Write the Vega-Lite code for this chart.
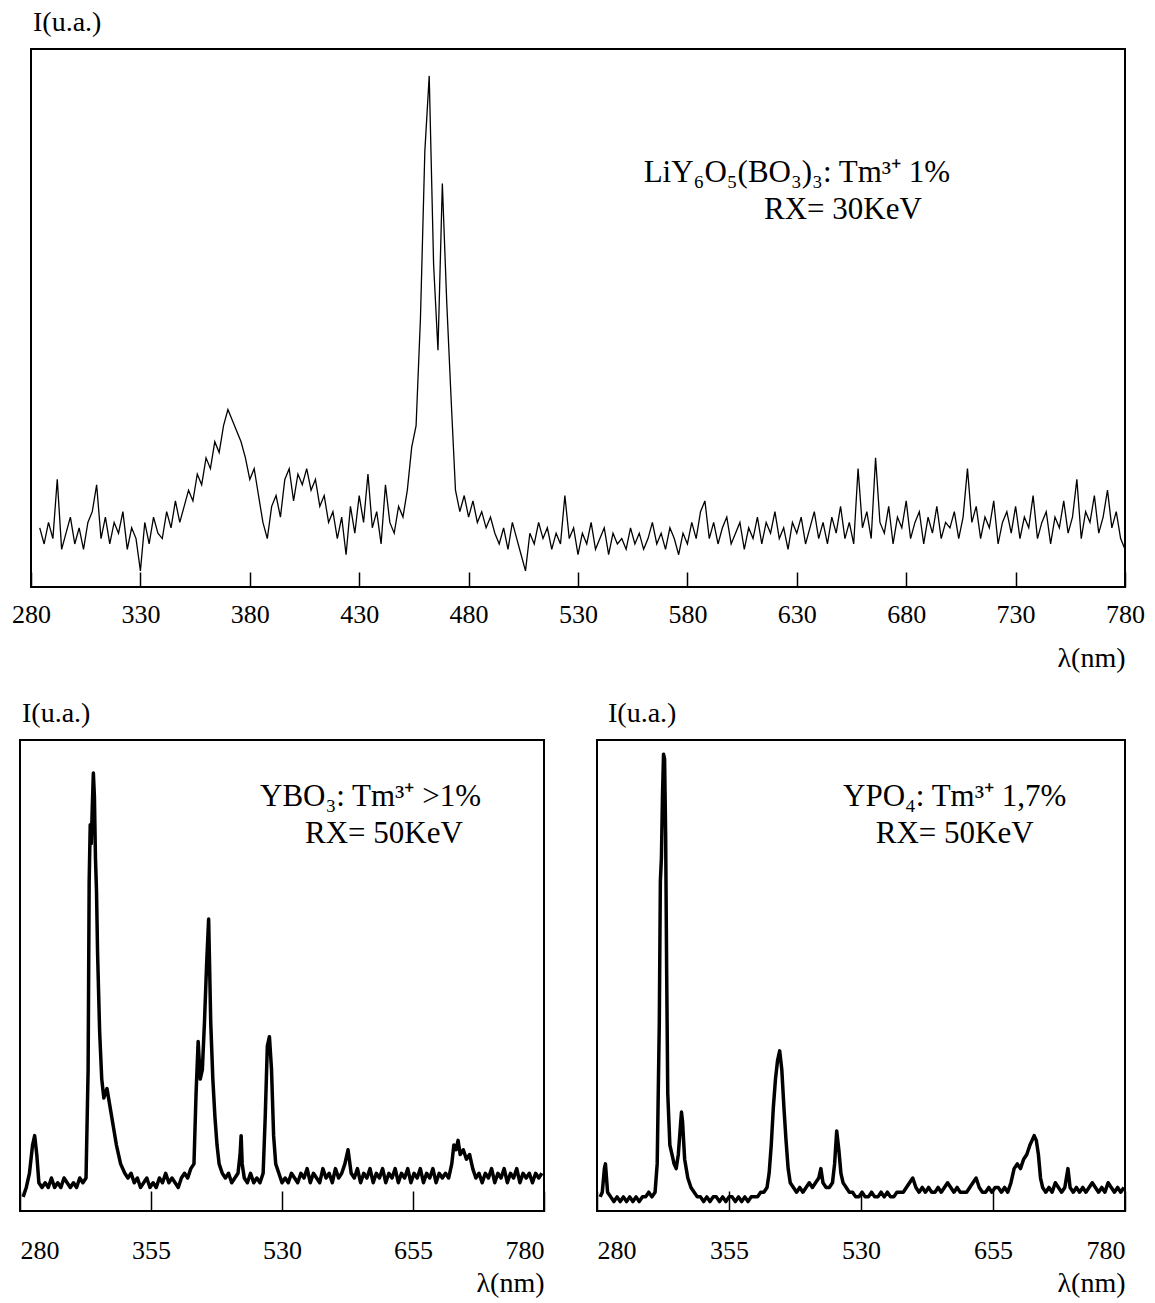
{
"$schema": "https://vega.github.io/schema/vega-lite/v6.json",
"padding": {"left": 10, "top": 8, "right": 0, "bottom": 0},
"background": "white",
"config": {
 "view": {"stroke": "black", "strokeWidth": 2},
 "font": "Liberation Serif",
 "title": {"font": "Liberation Serif", "fontSize": 28, "fontWeight": "normal", "color": "black", "anchor": "start", "frame": "group"},
 "axis": {"labelFont": "Liberation Serif", "labelFontSize": 26, "labelColor": "black", "titleFont": "Liberation Serif", "titleFontSize": 28, "titleFontWeight": "normal", "titleColor": "black", "grid": false, "domain": false, "tickColor": "black", "tickWidth": 1.5, "labelOverlap": false, "labelAngle": 0}
},
"datasets": {
 "lyb": [
{"wl":284,"i":11},{"wl":286,"i":8},{"wl":288,"i":12},{"wl":290,"i":9},{"wl":292,"i":20},{"wl":294,"i":7},{"wl":296,"i":10},{"wl":298,"i":13},{"wl":300,"i":8},{"wl":302,"i":11},{"wl":304,"i":7},{"wl":306,"i":12},{"wl":308,"i":14},{"wl":310,"i":19},{"wl":312,"i":9},{"wl":314,"i":13},{"wl":316,"i":8},{"wl":318,"i":12},{"wl":320,"i":10},{"wl":322,"i":14},{"wl":324,"i":7},{"wl":326,"i":11},{"wl":328,"i":9},{"wl":330,"i":3},{"wl":332,"i":12},{"wl":334,"i":8},{"wl":336,"i":13},{"wl":338,"i":10},{"wl":340,"i":9},{"wl":342,"i":14},{"wl":344,"i":11},{"wl":346,"i":16},{"wl":348,"i":12},{"wl":350,"i":15},{"wl":352,"i":18},{"wl":354,"i":16},{"wl":356,"i":21},{"wl":358,"i":19},{"wl":360,"i":24},{"wl":362,"i":22},{"wl":364,"i":27},{"wl":366,"i":25},{"wl":368,"i":30},{"wl":370,"i":33},{"wl":372,"i":31},{"wl":374,"i":29},{"wl":376,"i":27},{"wl":378,"i":24},{"wl":380,"i":20},{"wl":382,"i":22},{"wl":384,"i":17},{"wl":386,"i":12},{"wl":388,"i":9},{"wl":390,"i":15},{"wl":392,"i":17},{"wl":394,"i":13},{"wl":396,"i":20},{"wl":398,"i":22},{"wl":400,"i":16},{"wl":402,"i":21},{"wl":404,"i":19},{"wl":406,"i":22},{"wl":408,"i":18},{"wl":410,"i":20},{"wl":412,"i":15},{"wl":414,"i":17},{"wl":416,"i":12},{"wl":418,"i":14},{"wl":420,"i":9},{"wl":422,"i":13},{"wl":424,"i":6},{"wl":426,"i":15},{"wl":428,"i":10},{"wl":430,"i":17},{"wl":432,"i":12},{"wl":434,"i":21},{"wl":436,"i":11},{"wl":438,"i":14},{"wl":440,"i":8},{"wl":442,"i":19},{"wl":444,"i":12},{"wl":446,"i":10},{"wl":448,"i":15},{"wl":450,"i":13},{"wl":452,"i":18},{"wl":454,"i":26},{"wl":456,"i":30},{"wl":458,"i":50},{"wl":460,"i":81},{"wl":462,"i":95},{"wl":464,"i":60},{"wl":466,"i":44},{"wl":468,"i":75},{"wl":470,"i":53},{"wl":472,"i":35},{"wl":474,"i":18},{"wl":476,"i":14},{"wl":478,"i":17},{"wl":480,"i":13},{"wl":482,"i":16},{"wl":484,"i":12},{"wl":486,"i":14},{"wl":488,"i":11},{"wl":490,"i":13},{"wl":492,"i":10},{"wl":494,"i":8},{"wl":496,"i":11},{"wl":498,"i":7},{"wl":500,"i":12},{"wl":502,"i":9},{"wl":504,"i":6},{"wl":506,"i":3},{"wl":508,"i":10},{"wl":510,"i":8},{"wl":512,"i":12},{"wl":514,"i":9},{"wl":516,"i":11},{"wl":518,"i":7},{"wl":520,"i":10},{"wl":522,"i":8},{"wl":524,"i":17},{"wl":526,"i":9},{"wl":528,"i":11},{"wl":530,"i":6},{"wl":532,"i":10},{"wl":534,"i":8},{"wl":536,"i":12},{"wl":538,"i":7},{"wl":540,"i":9},{"wl":542,"i":11},{"wl":544,"i":6},{"wl":546,"i":10},{"wl":548,"i":8},{"wl":550,"i":9},{"wl":552,"i":7},{"wl":554,"i":11},{"wl":556,"i":8},{"wl":558,"i":10},{"wl":560,"i":7},{"wl":562,"i":9},{"wl":564,"i":12},{"wl":566,"i":8},{"wl":568,"i":10},{"wl":570,"i":7},{"wl":572,"i":11},{"wl":574,"i":9},{"wl":576,"i":6},{"wl":578,"i":10},{"wl":580,"i":8},{"wl":582,"i":12},{"wl":584,"i":9},{"wl":586,"i":14},{"wl":588,"i":16},{"wl":590,"i":9},{"wl":592,"i":12},{"wl":594,"i":8},{"wl":596,"i":11},{"wl":598,"i":13},{"wl":600,"i":8},{"wl":602,"i":10},{"wl":604,"i":12},{"wl":606,"i":7},{"wl":608,"i":11},{"wl":610,"i":9},{"wl":612,"i":13},{"wl":614,"i":8},{"wl":616,"i":12},{"wl":618,"i":10},{"wl":620,"i":14},{"wl":622,"i":9},{"wl":624,"i":11},{"wl":626,"i":7},{"wl":628,"i":12},{"wl":630,"i":10},{"wl":632,"i":13},{"wl":634,"i":8},{"wl":636,"i":11},{"wl":638,"i":14},{"wl":640,"i":9},{"wl":642,"i":12},{"wl":644,"i":8},{"wl":646,"i":13},{"wl":648,"i":10},{"wl":650,"i":15},{"wl":652,"i":9},{"wl":654,"i":12},{"wl":656,"i":8},{"wl":658,"i":22},{"wl":660,"i":11},{"wl":662,"i":14},{"wl":664,"i":9},{"wl":666,"i":24},{"wl":668,"i":12},{"wl":670,"i":10},{"wl":672,"i":15},{"wl":674,"i":8},{"wl":676,"i":13},{"wl":678,"i":11},{"wl":680,"i":16},{"wl":682,"i":9},{"wl":684,"i":12},{"wl":686,"i":14},{"wl":688,"i":8},{"wl":690,"i":13},{"wl":692,"i":10},{"wl":694,"i":15},{"wl":696,"i":9},{"wl":698,"i":12},{"wl":700,"i":11},{"wl":702,"i":14},{"wl":704,"i":9},{"wl":706,"i":13},{"wl":708,"i":22},{"wl":710,"i":12},{"wl":712,"i":15},{"wl":714,"i":9},{"wl":716,"i":13},{"wl":718,"i":11},{"wl":720,"i":16},{"wl":722,"i":8},{"wl":724,"i":12},{"wl":726,"i":14},{"wl":728,"i":10},{"wl":730,"i":15},{"wl":732,"i":9},{"wl":734,"i":13},{"wl":736,"i":11},{"wl":738,"i":17},{"wl":740,"i":9},{"wl":742,"i":12},{"wl":744,"i":14},{"wl":746,"i":8},{"wl":748,"i":13},{"wl":750,"i":11},{"wl":752,"i":16},{"wl":754,"i":10},{"wl":756,"i":13},{"wl":758,"i":20},{"wl":760,"i":9},{"wl":762,"i":14},{"wl":764,"i":12},{"wl":766,"i":17},{"wl":768,"i":10},{"wl":770,"i":13},{"wl":772,"i":18},{"wl":774,"i":11},{"wl":776,"i":14},{"wl":778,"i":9},{"wl":780,"i":7}
 ],
 "ybo": [
{"wl":283,"i":3},{"wl":286,"i":5},{"wl":289,"i":8},{"wl":292,"i":14},{"wl":294,"i":16},{"wl":296,"i":12},{"wl":298,"i":6},{"wl":301,"i":5},{"wl":304,"i":6},{"wl":307,"i":5},{"wl":310,"i":7},{"wl":313,"i":5},{"wl":316,"i":6},{"wl":319,"i":5},{"wl":322,"i":7},{"wl":325,"i":6},{"wl":328,"i":5},{"wl":331,"i":6},{"wl":334,"i":5},{"wl":337,"i":7},{"wl":340,"i":6},{"wl":343,"i":7},{"wl":345,"i":30},{"wl":346,"i":70},{"wl":347,"i":82},{"wl":348,"i":78},{"wl":349,"i":86},{"wl":350,"i":93},{"wl":351,"i":88},{"wl":352,"i":75},{"wl":353,"i":68},{"wl":354,"i":55},{"wl":356,"i":38},{"wl":358,"i":28},{"wl":360,"i":24},{"wl":363,"i":26},{"wl":366,"i":22},{"wl":369,"i":18},{"wl":372,"i":14},{"wl":376,"i":10},{"wl":380,"i":8},{"wl":383,"i":7},{"wl":386,"i":8},{"wl":389,"i":6},{"wl":392,"i":7},{"wl":395,"i":5},{"wl":398,"i":6},{"wl":401,"i":7},{"wl":404,"i":5},{"wl":407,"i":6},{"wl":410,"i":5},{"wl":413,"i":7},{"wl":416,"i":6},{"wl":419,"i":8},{"wl":422,"i":6},{"wl":425,"i":7},{"wl":428,"i":6},{"wl":431,"i":5},{"wl":434,"i":7},{"wl":437,"i":8},{"wl":440,"i":7},{"wl":443,"i":9},{"wl":446,"i":10},{"wl":448,"i":25},{"wl":450,"i":36},{"wl":452,"i":28},{"wl":454,"i":30},{"wl":456,"i":40},{"wl":458,"i":52},{"wl":460,"i":62},{"wl":462,"i":40},{"wl":464,"i":28},{"wl":466,"i":20},{"wl":468,"i":14},{"wl":470,"i":10},{"wl":473,"i":8},{"wl":476,"i":7},{"wl":479,"i":8},{"wl":482,"i":6},{"wl":485,"i":7},{"wl":488,"i":8},{"wl":490,"i":12},{"wl":491,"i":16},{"wl":492,"i":10},{"wl":494,"i":7},{"wl":497,"i":6},{"wl":500,"i":8},{"wl":503,"i":6},{"wl":506,"i":7},{"wl":509,"i":6},{"wl":512,"i":8},{"wl":514,"i":20},{"wl":516,"i":35},{"wl":518,"i":37},{"wl":520,"i":30},{"wl":522,"i":16},{"wl":524,"i":10},{"wl":527,"i":8},{"wl":530,"i":6},{"wl":533,"i":7},{"wl":536,"i":6},{"wl":539,"i":8},{"wl":542,"i":7},{"wl":545,"i":6},{"wl":548,"i":8},{"wl":551,"i":7},{"wl":554,"i":9},{"wl":557,"i":6},{"wl":560,"i":8},{"wl":563,"i":7},{"wl":566,"i":6},{"wl":569,"i":9},{"wl":572,"i":7},{"wl":575,"i":8},{"wl":578,"i":6},{"wl":581,"i":9},{"wl":584,"i":7},{"wl":587,"i":8},{"wl":590,"i":10},{"wl":593,"i":13},{"wl":596,"i":8},{"wl":599,"i":7},{"wl":602,"i":9},{"wl":605,"i":6},{"wl":608,"i":8},{"wl":611,"i":7},{"wl":614,"i":9},{"wl":617,"i":6},{"wl":620,"i":8},{"wl":623,"i":7},{"wl":626,"i":9},{"wl":629,"i":6},{"wl":632,"i":8},{"wl":635,"i":7},{"wl":638,"i":9},{"wl":641,"i":6},{"wl":644,"i":8},{"wl":647,"i":7},{"wl":650,"i":9},{"wl":653,"i":6},{"wl":656,"i":8},{"wl":659,"i":7},{"wl":662,"i":9},{"wl":665,"i":6},{"wl":668,"i":8},{"wl":671,"i":7},{"wl":674,"i":9},{"wl":677,"i":6},{"wl":680,"i":8},{"wl":683,"i":7},{"wl":686,"i":8},{"wl":689,"i":7},{"wl":692,"i":10},{"wl":694,"i":14},{"wl":696,"i":13},{"wl":698,"i":15},{"wl":700,"i":12},{"wl":703,"i":13},{"wl":706,"i":11},{"wl":709,"i":12},{"wl":712,"i":9},{"wl":715,"i":7},{"wl":718,"i":8},{"wl":721,"i":6},{"wl":724,"i":8},{"wl":727,"i":7},{"wl":730,"i":9},{"wl":733,"i":6},{"wl":736,"i":8},{"wl":739,"i":7},{"wl":742,"i":9},{"wl":745,"i":6},{"wl":748,"i":8},{"wl":751,"i":7},{"wl":754,"i":9},{"wl":757,"i":6},{"wl":760,"i":8},{"wl":763,"i":7},{"wl":766,"i":8},{"wl":769,"i":6},{"wl":772,"i":8},{"wl":775,"i":7},{"wl":778,"i":8}
 ],
 "ypo": [
{"wl":283,"i":3},{"wl":285,"i":4},{"wl":287,"i":9},{"wl":288,"i":10},{"wl":290,"i":4},{"wl":293,"i":3},{"wl":296,"i":2},{"wl":299,"i":3},{"wl":302,"i":2},{"wl":305,"i":3},{"wl":308,"i":2},{"wl":311,"i":3},{"wl":314,"i":2},{"wl":317,"i":3},{"wl":320,"i":2},{"wl":323,"i":3},{"wl":326,"i":3},{"wl":329,"i":4},{"wl":332,"i":3},{"wl":335,"i":4},{"wl":337,"i":10},{"wl":339,"i":40},{"wl":340,"i":70},{"wl":341,"i":75},{"wl":342,"i":88},{"wl":343,"i":97},{"wl":344,"i":96},{"wl":345,"i":80},{"wl":346,"i":50},{"wl":347,"i":25},{"wl":349,"i":14},{"wl":351,"i":12},{"wl":353,"i":10},{"wl":355,"i":9},{"wl":357,"i":12},{"wl":359,"i":18},{"wl":360,"i":21},{"wl":361,"i":19},{"wl":363,"i":11},{"wl":366,"i":7},{"wl":369,"i":5},{"wl":372,"i":4},{"wl":375,"i":3},{"wl":378,"i":3},{"wl":381,"i":2},{"wl":384,"i":3},{"wl":387,"i":2},{"wl":390,"i":3},{"wl":393,"i":3},{"wl":396,"i":2},{"wl":399,"i":3},{"wl":402,"i":2},{"wl":405,"i":3},{"wl":408,"i":3},{"wl":411,"i":2},{"wl":414,"i":3},{"wl":417,"i":2},{"wl":420,"i":3},{"wl":423,"i":2},{"wl":426,"i":3},{"wl":429,"i":3},{"wl":432,"i":3},{"wl":435,"i":4},{"wl":438,"i":4},{"wl":441,"i":5},{"wl":443,"i":8},{"wl":445,"i":14},{"wl":447,"i":22},{"wl":449,"i":28},{"wl":451,"i":32},{"wl":453,"i":34},{"wl":455,"i":30},{"wl":457,"i":22},{"wl":459,"i":15},{"wl":461,"i":9},{"wl":463,"i":6},{"wl":466,"i":5},{"wl":469,"i":4},{"wl":472,"i":5},{"wl":475,"i":4},{"wl":478,"i":5},{"wl":481,"i":6},{"wl":484,"i":5},{"wl":487,"i":6},{"wl":490,"i":7},{"wl":492,"i":9},{"wl":494,"i":6},{"wl":497,"i":5},{"wl":500,"i":5},{"wl":503,"i":6},{"wl":505,"i":10},{"wl":507,"i":17},{"wl":509,"i":13},{"wl":511,"i":8},{"wl":513,"i":6},{"wl":516,"i":5},{"wl":519,"i":4},{"wl":522,"i":4},{"wl":525,"i":3},{"wl":528,"i":3},{"wl":531,"i":4},{"wl":534,"i":3},{"wl":537,"i":3},{"wl":540,"i":4},{"wl":543,"i":3},{"wl":546,"i":3},{"wl":549,"i":4},{"wl":552,"i":3},{"wl":555,"i":4},{"wl":558,"i":3},{"wl":561,"i":3},{"wl":564,"i":4},{"wl":567,"i":4},{"wl":570,"i":4},{"wl":573,"i":5},{"wl":576,"i":6},{"wl":579,"i":7},{"wl":582,"i":5},{"wl":585,"i":4},{"wl":588,"i":5},{"wl":591,"i":4},{"wl":594,"i":5},{"wl":597,"i":4},{"wl":600,"i":4},{"wl":603,"i":5},{"wl":606,"i":4},{"wl":609,"i":5},{"wl":612,"i":6},{"wl":615,"i":5},{"wl":618,"i":4},{"wl":621,"i":5},{"wl":624,"i":4},{"wl":627,"i":4},{"wl":630,"i":4},{"wl":633,"i":5},{"wl":636,"i":6},{"wl":639,"i":7},{"wl":642,"i":5},{"wl":645,"i":4},{"wl":648,"i":4},{"wl":651,"i":5},{"wl":654,"i":4},{"wl":657,"i":5},{"wl":660,"i":5},{"wl":663,"i":4},{"wl":666,"i":5},{"wl":669,"i":4},{"wl":672,"i":6},{"wl":675,"i":9},{"wl":678,"i":10},{"wl":681,"i":9},{"wl":684,"i":11},{"wl":687,"i":12},{"wl":690,"i":14},{"wl":692,"i":15},{"wl":694,"i":16},{"wl":696,"i":15},{"wl":698,"i":12},{"wl":700,"i":7},{"wl":702,"i":5},{"wl":705,"i":4},{"wl":708,"i":5},{"wl":711,"i":4},{"wl":714,"i":6},{"wl":717,"i":5},{"wl":720,"i":4},{"wl":723,"i":5},{"wl":726,"i":9},{"wl":728,"i":5},{"wl":731,"i":4},{"wl":734,"i":5},{"wl":737,"i":4},{"wl":740,"i":5},{"wl":743,"i":4},{"wl":746,"i":5},{"wl":749,"i":6},{"wl":752,"i":5},{"wl":755,"i":4},{"wl":758,"i":5},{"wl":761,"i":4},{"wl":764,"i":6},{"wl":767,"i":5},{"wl":770,"i":4},{"wl":773,"i":5},{"wl":776,"i":4},{"wl":779,"i":5}
 ]
},
"vconcat": [
 {
  "bounds": "flush",
  "spacing": 10,
  "hconcat": [
   {"width": 1, "height": 538, "view": {"stroke": null}, "data": {"values": [{"a": 0}]}, "mark": {"type": "point", "opacity": 0}, "encoding": {}},
   {
    "width": 1094, "height": 538,
    "title": {"text": "I(u.a.)", "dx": 2, "offset": 12},
    "layer": [
     {"data": {"name": "lyb"}, "mark": {"type": "line", "color": "black", "strokeWidth": 1.3},
      "encoding": {
       "x": {"field": "wl", "type": "quantitative", "scale": {"domain": [280, 780], "nice": false, "zero": false},
         "axis": {"values": [280,330,380,430,480,530,580,630,680,730,780], "tickSize": -15, "labelPadding": 29, "labelFlush": false, "title": "λ(nm)", "titleAnchor": "end", "titleAlign": "right", "titlePadding": 17}},
       "y": {"field": "i", "type": "quantitative", "scale": {"domain": [0, 100], "nice": false}, "axis": null}}},
     {"data": {"values": [{"t": "LiY₆O₅(BO₃)₃: Tm³⁺ 1%"}]}, "mark": {"type": "text", "align": "left", "baseline": "middle", "fontSize": 31, "font": "Liberation Serif", "color": "black"},
      "encoding": {"x": {"datum": 560, "type": "quantitative"}, "y": {"datum": 77, "type": "quantitative"}, "text": {"field": "t"}}},
     {"data": {"values": [{"t": "RX= 30KeV"}]}, "mark": {"type": "text", "align": "left", "baseline": "middle", "fontSize": 31, "font": "Liberation Serif", "color": "black"},
      "encoding": {"x": {"datum": 615, "type": "quantitative"}, "y": {"datum": 70, "type": "quantitative"}, "text": {"field": "t"}}}
    ]
   }
  ]
 },
 {
  "bounds": "flush",
  "spacing": 53,
  "hconcat": [
   {
    "width": 524, "height": 471,
    "title": {"text": "I(u.a.)", "dx": 2, "offset": 12},
    "layer": [
     {"data": {"name": "ybo"}, "mark": {"type": "line", "color": "black", "strokeWidth": 3.5, "strokeJoin": "round"},
      "encoding": {
       "x": {"field": "wl", "type": "quantitative", "scale": {"domain": [280, 780], "nice": false, "zero": false},
         "axis": {"values": [280,405,530,655,780], "labelExpr": "datum.value == 405 ? '355' : datum.label", "tickSize": -20, "labelPadding": 46, "labelFlush": true, "title": "λ(nm)", "titleAnchor": "end", "titleAlign": "right", "titlePadding": 6}},
       "y": {"field": "i", "type": "quantitative", "scale": {"domain": [0, 100], "nice": false}, "axis": null}}},
     {"data": {"values": [{"t": "YBO₃: Tm³⁺ >1%"}]}, "mark": {"type": "text", "align": "left", "baseline": "middle", "fontSize": 31, "font": "Liberation Serif", "color": "black"},
      "encoding": {"x": {"datum": 509, "type": "quantitative"}, "y": {"datum": 88, "type": "quantitative"}, "text": {"field": "t"}}},
     {"data": {"values": [{"t": "RX= 50KeV"}]}, "mark": {"type": "text", "align": "left", "baseline": "middle", "fontSize": 31, "font": "Liberation Serif", "color": "black"},
      "encoding": {"x": {"datum": 552, "type": "quantitative"}, "y": {"datum": 80, "type": "quantitative"}, "text": {"field": "t"}}}
    ]
   },
   {
    "width": 528, "height": 471,
    "title": {"text": "I(u.a.)", "dx": 11, "offset": 12},
    "layer": [
     {"data": {"name": "ypo"}, "mark": {"type": "line", "color": "black", "strokeWidth": 3.5, "strokeJoin": "round"},
      "encoding": {
       "x": {"field": "wl", "type": "quantitative", "scale": {"domain": [280, 780], "nice": false, "zero": false},
         "axis": {"values": [280,405,530,655,780], "labelExpr": "datum.value == 405 ? '355' : datum.label", "tickSize": -20, "labelPadding": 46, "labelFlush": true, "title": "λ(nm)", "titleAnchor": "end", "titleAlign": "right", "titlePadding": 6}},
       "y": {"field": "i", "type": "quantitative", "scale": {"domain": [0, 100], "nice": false}, "axis": null}}},
     {"data": {"values": [{"t": "YPO₄: Tm³⁺ 1,7%"}]}, "mark": {"type": "text", "align": "left", "baseline": "middle", "fontSize": 31, "font": "Liberation Serif", "color": "black"},
      "encoding": {"x": {"datum": 513, "type": "quantitative"}, "y": {"datum": 88, "type": "quantitative"}, "text": {"field": "t"}}},
     {"data": {"values": [{"t": "RX= 50KeV"}]}, "mark": {"type": "text", "align": "left", "baseline": "middle", "fontSize": 31, "font": "Liberation Serif", "color": "black"},
      "encoding": {"x": {"datum": 544, "type": "quantitative"}, "y": {"datum": 80, "type": "quantitative"}, "text": {"field": "t"}}}
    ]
   }
  ]
 }
],
"bounds": "flush",
"spacing": 691
}
